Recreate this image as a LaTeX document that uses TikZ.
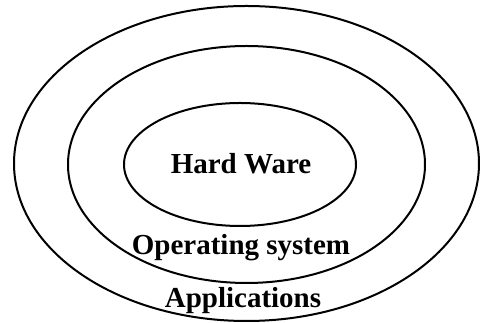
\documentclass[tikz,border=0pt]{standalone}
\usepackage{fontspec}
\setmainfont{Liberation Serif}

\begin{document}
\begin{tikzpicture}[x=1pt,y=1pt]
    % layer label style
    \tikzset{layer/.style={font=\fontsize{29}{34}\selectfont\bfseries, inner sep=0pt, anchor=base}}
    \useasboundingbox (0,0) rectangle (480,323);

    % Draw the three rings
    \draw[line width=2pt] (246.5,159.5) ellipse [x radius=232.5, y radius=157.5];
    \draw[line width=2pt] (246.5,158.5) ellipse [x radius=178.5, y radius=118.5];
    \draw[line width=2pt] (240,158.5) ellipse [x radius=116, y radius=61.5];

    % Add layer labels
    \node[layer] (hw) at (241,149) {Hard Ware};
    \node[layer] (os) at (241,68) {Operating system};
    \node[layer] (app) at (243,15) {Applications};
\end{tikzpicture}
\end{document}
